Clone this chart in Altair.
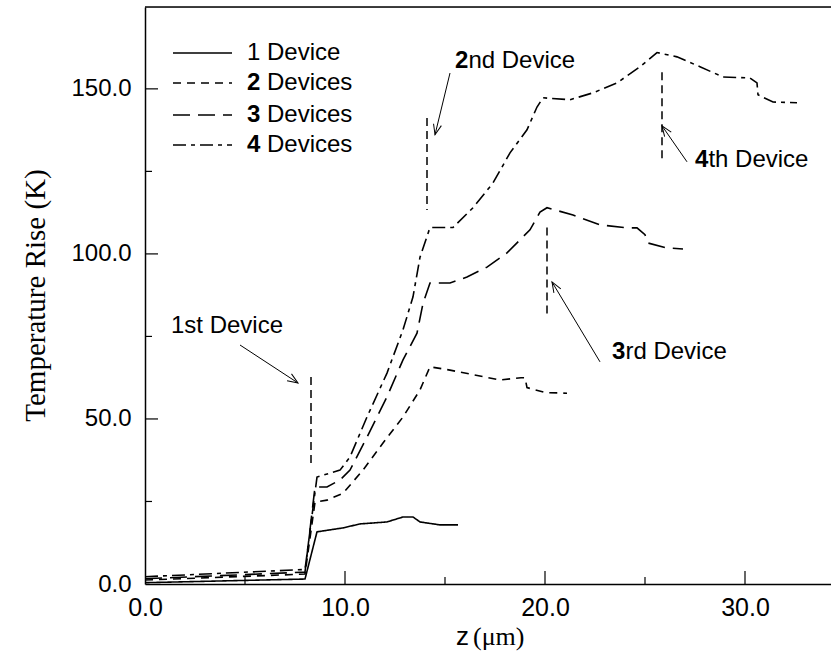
import math
import altair as alt
import pandas as pd

# ---------------- data ----------------
series_names = ["1 Device", "2 Devices", "3 Devices", "4 Devices"]

z1 = [0.0, 8.0, 8.6, 9.9, 10.75, 12.1, 12.9, 13.4, 13.75, 14.75, 15.65]
t1 = [0.4, 1.5, 15.8, 17.0, 18.2, 18.8, 20.3, 20.3, 18.8, 17.9, 17.9]

z2 = [0.0, 8.0, 8.5, 9.1, 9.9, 10.9, 11.9, 12.9, 13.75, 14.25, 15.25, 17.75,
      18.8, 19.0, 19.1, 20.0, 21.1]
t2 = [1.2, 3.0, 24.8, 25.4, 27.5, 34.5, 42.7, 50.6, 58.8, 65.8, 64.8, 61.8,
      62.5, 62.5, 59.5, 58.0, 57.8]

z3 = [0.0, 8.0, 8.5, 9.1, 9.75, 10.25, 11.1, 12.1, 12.9, 13.6, 13.9, 14.25,
      15.25, 16.1, 17.1, 18.1, 19.25, 19.75, 20.1, 21.4, 22.75, 24.1, 24.6,
      25.0, 25.15, 26.1, 26.9]
t3 = [1.6, 3.6, 29.4, 29.4, 31.5, 34.5, 44.5, 56.7, 67.9, 76.0, 85.0, 91.2,
      91.2, 93.0, 96.0, 100.3, 107.3, 112.7, 114.0, 111.8, 108.8, 107.9, 107.9,
      105.8, 103.3, 101.8, 101.5]

z4 = [0.0, 8.0, 8.6, 9.75, 10.25, 11.1, 12.1, 12.9, 13.4, 13.75, 14.25, 15.4,
      16.4, 17.4, 18.25, 19.1, 19.6, 19.9, 21.25, 22.4, 23.6, 24.75, 25.6,
      26.6, 27.75, 28.9, 30.25, 30.6, 30.65, 31.4, 32.6]
t4 = [2.2, 4.4, 32.4, 34.5, 38.5, 50.6, 63.9, 77.0, 87.0, 99.0, 108.0, 108.0,
      114.0, 121.5, 130.6, 137.6, 144.5, 147.3, 146.7, 148.8, 151.8, 156.7,
      161.0, 159.7, 156.7, 153.6, 153.3, 151.8, 148.2, 146.0, 145.8]

# device position markers (vertical dashed lines)
dev_z = [8.3, 14.1, 20.1, 25.85]
dev_top = [62.7, 141.2, 108.0, 155.0]
dev_bot = [35.5, 113.3, 81.0, 128.0]

# annotations
ann_bold = ["", "2", "3", "4"]
ann_rest = ["1st Device", "nd Device", "rd Device", "th  Device"]
ann_z = [1.3, 15.5, 23.35, 27.5]
ann_t = [78.2, 158.3, 70.3, 128.5]
arr_z0 = [4.75, 15.25, 22.75, 27.1]
arr_t0 = [72.4, 154.8, 67.3, 127.9]
arr_z1 = [7.65, 14.5, 20.35, 25.85]
arr_t1 = [60.9, 136.1, 91.5, 138.8]

x_major = [0, 10, 20, 30]
x_minor = [5, 15, 25]
y_major = [0, 50, 100, 150]
y_minor = [25, 75, 125]

# ---------------- layout ----------------
W, H = 686, 577
XMAX, YMAX = 34.3, 174.8
SX, SY = W / XMAX, H / YMAX
SANS = "Liberation Sans"
NARROW = "Liberation Sans Narrow, Arial Narrow, Liberation Sans"
SERIF = "Liberation Serif"
FS = 24

xs = alt.Scale(domain=[0, XMAX], nice=False, zero=False)
ys = alt.Scale(domain=[0, YMAX], nice=False, zero=False)

rows = []
for name, zz, tt in zip(series_names, [z1, z2, z3, z4], [t1, t2, t3, t4]):
    for i, (a, b) in enumerate(zip(zz, tt)):
        rows.append({"z": a, "t": b, "series": name, "i": i})
curves = pd.DataFrame(rows)

dashes = [[1, 0], [8, 6], [17, 8], [13, 5, 4, 5]]

lines = alt.Chart(curves).mark_line(color="black", strokeWidth=1.6).encode(
    x=alt.X("z:Q", scale=xs,
            axis=alt.Axis(values=x_major, format=".1f", ticks=False, grid=False,
                          labelFont=NARROW, labelFontSize=25, labelPadding=11,
                          labelColor="black", domainColor="black", domainWidth=1.5,
                          title=None, labelFlush=False)),
    y=alt.Y("t:Q", scale=ys,
            axis=alt.Axis(values=y_major, format=".1f", ticks=False, grid=False,
                          labelFont=SANS, labelFontSize=FS, labelPadding=14,
                          labelColor="black", domainColor="black", domainWidth=1.5,
                          title=None, labelFlush=False)),
    strokeDash=alt.StrokeDash("series:N", scale=alt.Scale(domain=series_names, range=dashes),
                              legend=None),
    detail="series:N",
    order="i:Q",
)

one = pd.DataFrame({"k": [0]})

# top frame
top = alt.Chart(one).mark_rule(color="black", strokeWidth=1.5).encode(
    x=alt.value(0), x2=alt.value(W), y=alt.value(0))

# inward ticks
xt_layers = []
for v, ln in zip(x_major[1:] + x_minor, [13] * 3 + [7] * 3):
    xt_layers.append(alt.Chart(pd.DataFrame({"v": [v]})).mark_rule(color="black", strokeWidth=1.2).encode(
        x=alt.X("v:Q", scale=xs), y=alt.value(H), y2=alt.value(H - ln)))
yt_layers = []
for v, ln in zip(y_major[1:] + y_minor, [13] * 3 + [7] * 3):
    yt_layers.append(alt.Chart(pd.DataFrame({"v": [v]})).mark_rule(color="black", strokeWidth=1.2).encode(
        y=alt.Y("v:Q", scale=ys), x=alt.value(0), x2=alt.value(ln)))

# device markers
devdf = pd.DataFrame({"z": dev_z, "a": dev_top, "b": dev_bot})
devs = alt.Chart(devdf).mark_rule(color="black", strokeWidth=1.5, strokeDash=[8, 5]).encode(
    x=alt.X("z:Q", scale=xs), y=alt.Y("a:Q", scale=ys), y2="b:Q")

# arrows
angles = []
for a0, b0, a1, b1 in zip(arr_z0, arr_t0, arr_z1, arr_t1):
    dx = (a1 - a0) * SX
    dy = -(b1 - b0) * SY
    angles.append(math.degrees(math.atan2(dx, -dy)) % 360)
arrdf = pd.DataFrame({"z0": arr_z0, "t0": arr_t0, "z1": arr_z1, "t1": arr_t1, "ang": angles})
shafts = alt.Chart(arrdf).mark_rule(color="black", strokeWidth=1).encode(
    x=alt.X("z0:Q", scale=xs), y=alt.Y("t0:Q", scale=ys), x2="z1:Q", y2="t1:Q")
heads = alt.Chart(arrdf).mark_point(
    shape="M -0.36 0.93 L 0 0 L 0.36 0.93", filled=False, color="black",
    strokeWidth=1, size=500, opacity=1).encode(
    x=alt.X("z1:Q", scale=xs), y=alt.Y("t1:Q", scale=ys), angle=alt.Angle("ang:Q", scale=None))

# annotation texts
anndf = pd.DataFrame({"z": ann_z, "t": ann_t, "b": ann_bold})
ann_b = alt.Chart(anndf).mark_text(font=SANS, fontSize=FS, fontWeight="bold", align="left",
                                   baseline="middle", color="black").encode(
    x=alt.X("z:Q", scale=xs), y=alt.Y("t:Q", scale=ys), text="b:N")
ann_layers = []
for zz, tt, bb, rr in zip(ann_z, ann_t, ann_bold, ann_rest):
    ann_layers.append(alt.Chart(pd.DataFrame({"z": [zz], "t": [tt], "r": [rr]})).mark_text(
        font=SANS, fontSize=FS, align="left", baseline="middle", color="black",
        dx=0 if bb == "" else 13.4).encode(
        x=alt.X("z:Q", scale=xs), y=alt.Y("t:Q", scale=ys), text="r:N"))

# legend
leg_layers = []
row_y = [46, 76, 108, 138]
for k, name in enumerate(series_names):
    d = pd.DataFrame({"name": [name]})
    leg_layers.append(alt.Chart(d).mark_rule(color="black", strokeWidth=1.6, strokeDash=dashes[k]).encode(
        x=alt.value(28), x2=alt.value(87), y=alt.value(row_y[k])))
    num, rest = name.split(" ", 1)
    leg_layers.append(alt.Chart(d).mark_text(font=SANS, fontSize=FS, align="left", baseline="middle",
                                             color="black", fontWeight="normal" if k == 0 else "bold").encode(
        x=alt.value(102), y=alt.value(row_y[k]), text=alt.value(num)))
    leg_layers.append(alt.Chart(d).mark_text(font=SANS, fontSize=FS, align="left", baseline="middle",
                                             color="black").encode(
        x=alt.value(102 + 20), y=alt.value(row_y[k]), text=alt.value(rest)))

# axis titles
ytitle = alt.Chart(one).mark_text(font=SERIF, fontSize=29, angle=270, align="center",
                                  baseline="middle", color="black").encode(
    x=alt.value(-109), y=alt.value(H / 2), text=alt.value("Temperature Rise (K)"))
xt_z = alt.Chart(one).mark_text(font=NARROW, fontSize=26, align="left", baseline="middle",
                                color="black").encode(
    x=alt.value(311), y=alt.value(630), text=alt.value("z"))
xt_mu = alt.Chart(one).mark_text(font=SERIF, fontSize=26, align="left", baseline="middle",
                                 color="black").encode(
    x=alt.value(328), y=alt.value(630), text=alt.value("(\u03bcm)"))

chart = alt.layer(
    lines, top, *xt_layers, *yt_layers, devs, shafts, heads, ann_b, *ann_layers,
    *leg_layers, ytitle, xt_z, xt_mu
).properties(
    width=W, height=H,
    padding={"left": 145, "top": 7, "right": 0, "bottom": 69},
    autosize=alt.AutoSizeParams(type="none"),
).configure_view(stroke=None).configure(background="white")

chart.save("out.html", embed_options={"renderer": "svg", "actions": False})
